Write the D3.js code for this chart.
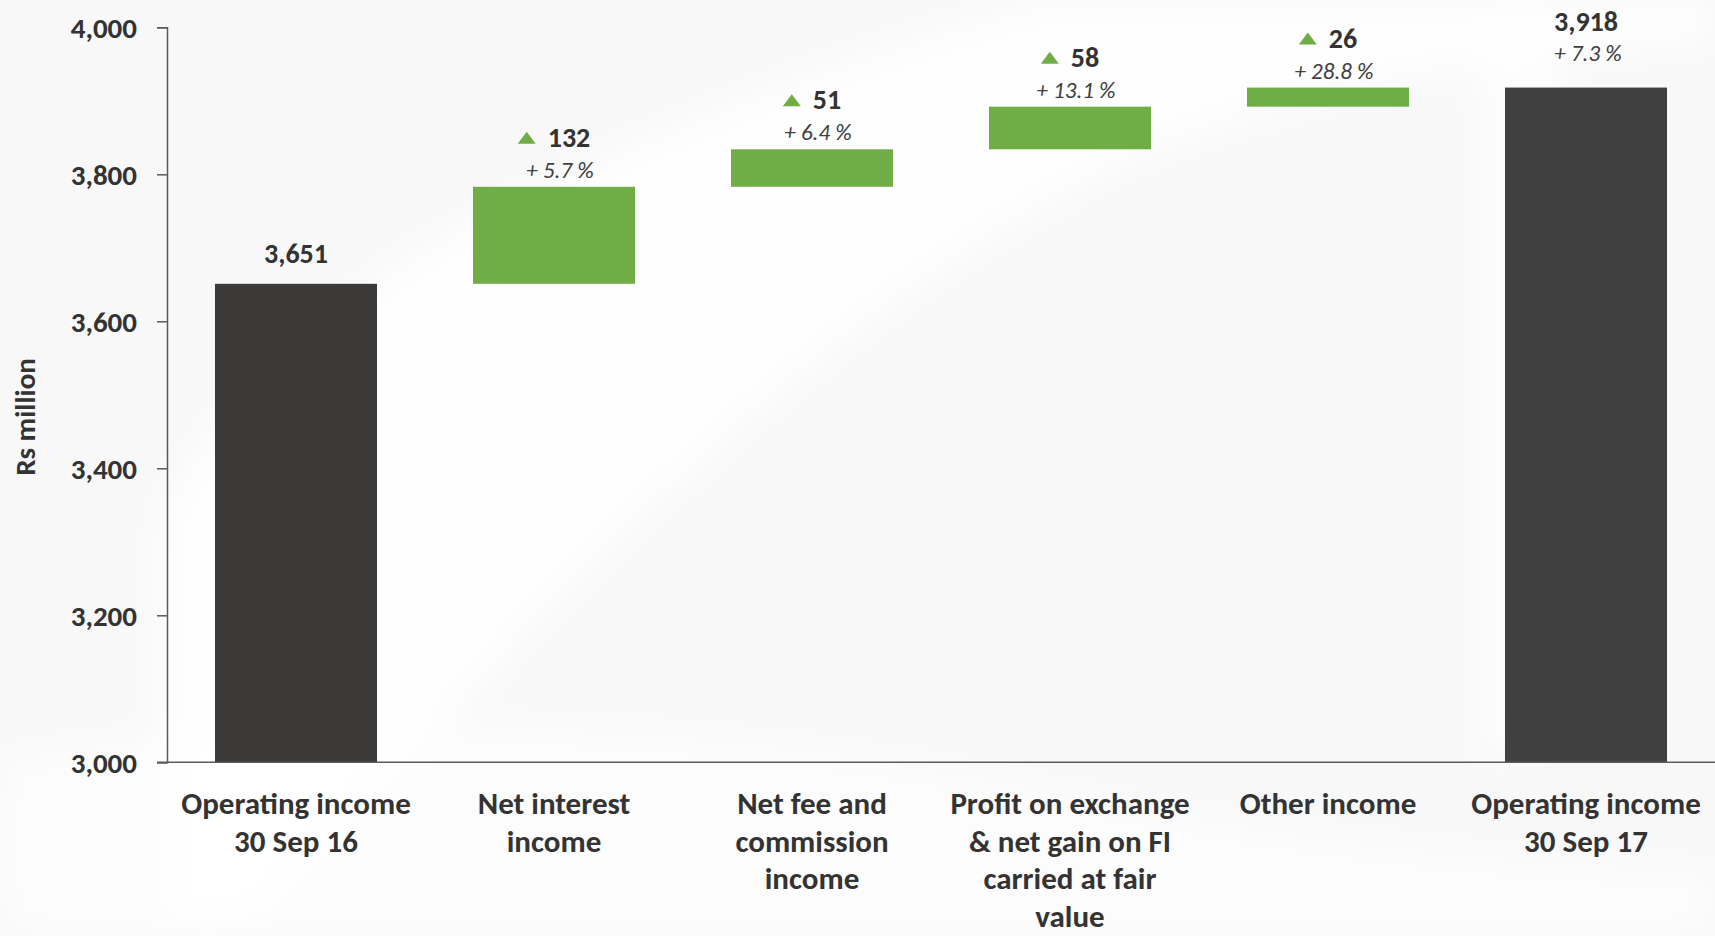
<!DOCTYPE html>
<html>
<head>
<meta charset="utf-8">
<script src="https://cdn.jsdelivr.net/npm/d3@7"></script>
<style>
  html, body { margin: 0; padding: 0; background: #ffffff; }
  svg { display: block; }
  text { font-family: Carlito, Calibri, Lato, "Open Sans", sans-serif; }
</style>
</head>
<body>
<svg id="chart" width="1715" height="936"></svg>
<script>
// Operating income bridge, Rs million
const categoryLines = [
  ["Operating income", "30 Sep 16"],
  ["Net interest", "income"],
  ["Net fee and", "commission", "income"],
  ["Profit on exchange", "& net gain on FI", "carried at fair", "value"],
  ["Other income"],
  ["Operating income", "30 Sep 17"]
];
const openingTotal = 3651;
const changes = [132, 51, 58, 26];
const changePercents = [5.7, 6.4, 13.1, 28.8];
const closingTotal = 3918;
const closingPercent = 7.3;
const yTicks = [3000, 3200, 3400, 3600, 3800, 4000];

// Build waterfall steps from the arrays above
const steps = [];
steps.push({ kind: "total", start: 3000, end: openingTotal, label: d3.format(",")(openingTotal), pct: null });
let running = openingTotal;
changes.forEach((c, i) => {
  steps.push({ kind: "delta", start: running, end: running + c, label: String(c), pct: changePercents[i] });
  running += c;
});
steps.push({ kind: "total", start: 3000, end: closingTotal, label: d3.format(",")(closingTotal), pct: closingPercent });
steps.forEach((s, i) => { s.lines = categoryLines[i]; s.idx = i; });

const svg = d3.select("#chart");
const W = 1715, H = 936;

// Soft background with white sweeps
const defs = svg.append("defs");
const blur = defs.append("filter").attr("id", "soft").attr("x", "-20%").attr("y", "-20%").attr("width", "140%").attr("height", "140%");
blur.append("feGaussianBlur").attr("stdDeviation", 18);
svg.append("rect").attr("width", W).attr("height", H).attr("fill", "#f8f8f9");
const bg = svg.append("g").attr("filter", "url(#soft)");
bg.append("path")
  .attr("d", "M250,936 C520,640 780,330 1130,160 C1300,90 1480,60 1715,40 L1715,0 L1050,0 C820,60 600,150 420,250 C300,330 200,420 160,520 L160,936 Z")
  .attr("fill", "#ffffff").attr("opacity", 0.85);
bg.append("path")
  .attr("d", "M0,760 C300,700 700,720 1000,780 C1250,830 1450,860 1715,870 L1715,936 L0,936 Z")
  .attr("fill", "#ffffff").attr("opacity", 0.6);
bg.append("path")
  .attr("d", "M1480,0 L1560,0 L1560,740 L1480,760 Z")
  .attr("fill", "#ffffff").attr("opacity", 0.7);

const x = d3.scaleBand()
  .domain(steps.map(s => s.idx))
  .range([167, 1715])
  .paddingInner(0.372)
  .paddingOuter(0.186);

const y = d3.scaleLinear().domain([3000, 4000]).range([762.3, 27.3]);

const textDark = "#333333";
const axisColor = "#5a5a5a";

// Y axis
const yAxis = svg.append("g")
  .attr("transform", "translate(167,0)")
  .call(d3.axisLeft(y).tickValues(yTicks).tickFormat(d3.format(",")).tickSize(10).tickPadding(20));
yAxis.select(".domain").attr("stroke", axisColor).attr("stroke-width", 1.5);
yAxis.selectAll(".tick line").attr("stroke", axisColor).attr("stroke-width", 1.5);
yAxis.selectAll(".tick text")
  .attr("fill", textDark)
  .attr("font-size", 29)
  .attr("font-weight", 700)
  .attr("dy", "0.36em");

// Bars
svg.append("g").selectAll("rect")
  .data(steps)
  .join("rect")
  .attr("x", d => x(d.idx))
  .attr("width", x.bandwidth())
  .attr("y", d => y(Math.max(d.start, d.end)))
  .attr("height", d => Math.abs(y(d.start) - y(d.end)))
  .attr("fill", d => d.kind === "delta" ? "#70ad47" : (d.idx === 0 ? "#3b3a38" : "#404040"));

// X axis (baseline)
const xAxis = svg.append("g")
  .attr("transform", `translate(0,${y(3000)})`)
  .call(d3.axisBottom(x).tickSize(0).tickFormat(""));
xAxis.select(".domain").attr("stroke", axisColor).attr("stroke-width", 1.5)
  .attr("d", `M157,0H${W}`);

// Category labels
const catG = svg.append("g");
steps.forEach(s => {
  const cx = x(s.idx) + x.bandwidth() / 2;
  const t = catG.append("text")
    .attr("x", cx)
    .attr("y", 814)
    .attr("text-anchor", "middle")
    .attr("fill", textDark)
    .attr("font-size", 31)
    .attr("font-weight", 700);
  s.lines.forEach((ln, j) => {
    t.append("tspan").attr("x", cx).attr("dy", j === 0 ? 0 : 37.5).text(ln);
  });
});

// Value and percent labels
const lab = svg.append("g");
steps.forEach(s => {
  const cx = x(s.idx) + x.bandwidth() / 2;
  const top = y(Math.max(s.start, s.end));
  if (s.kind === "total") {
    const hasPct = s.pct !== null;
    const valueBase = hasPct ? top - 57 : top - 21;
    lab.append("text")
      .attr("x", cx).attr("y", valueBase)
      .attr("text-anchor", "middle")
      .attr("fill", textDark)
      .attr("font-size", 28).attr("font-weight", 700)
      .text(s.label);
    if (hasPct) {
      lab.append("text")
        .attr("x", cx + 2).attr("y", top - 27)
        .attr("text-anchor", "middle")
        .attr("fill", "#404040")
        .attr("font-size", 23).attr("font-style", "italic")
        .text(`+ ${s.pct} %`);
    }
  } else {
    const valueBase = top - 40;
    const num = lab.append("text")
      .attr("y", valueBase)
      .attr("fill", textDark)
      .attr("font-size", 28).attr("font-weight", 700)
      .text(s.label);
    const w = num.node().getComputedTextLength();
    const triW = 18, triH = 12, gap = 12;
    const startX = cx - (triW + gap + w) / 2;
    num.attr("x", startX + triW + gap);
    const tb = valueBase - 3;
    lab.append("path")
      .attr("d", `M${startX},${tb}L${startX + triW},${tb}L${startX + triW / 2},${tb - triH}Z`)
      .attr("fill", "#70ad47");
    lab.append("text")
      .attr("x", cx + 6).attr("y", top - 9)
      .attr("text-anchor", "middle")
      .attr("fill", "#404040")
      .attr("font-size", 23).attr("font-style", "italic")
      .text(`+ ${s.pct} %`);
  }
});

// Y axis title
svg.append("text")
  .attr("transform", "translate(35,417) rotate(-90)")
  .attr("text-anchor", "middle")
  .attr("fill", textDark)
  .attr("font-size", 29)
  .attr("font-weight", 700)
  .text("Rs million");
</script>
</body>
</html>
